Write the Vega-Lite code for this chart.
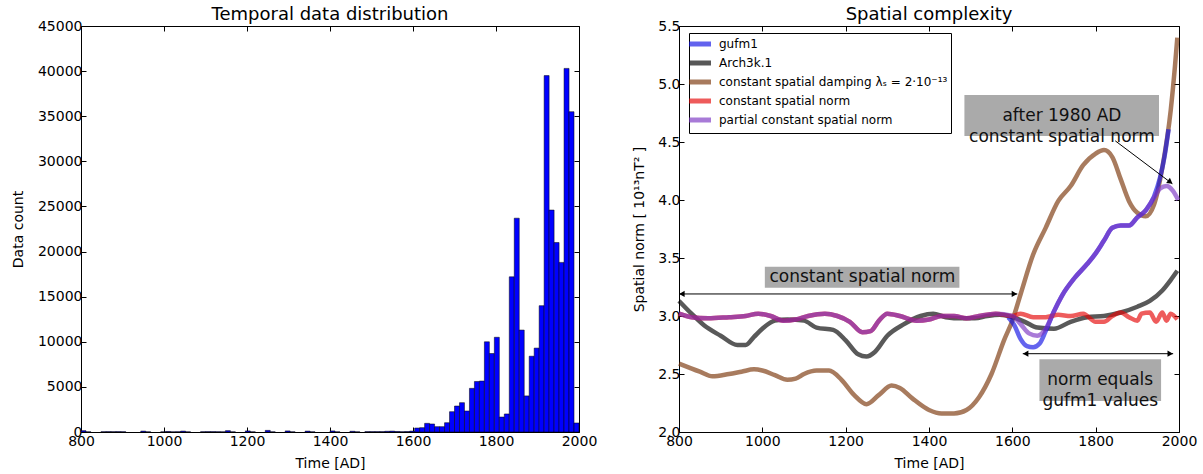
{
 "$schema": "https://vega.github.io/schema/vega-lite/v6.json",
 "padding": {"left": 10, "top": 5, "right": 5, "bottom": 0},
 "background": "white",
 "config": {
  "font": "DejaVu Sans",
  "view": {"stroke": "black", "strokeWidth": 1},
  "axis": {"domain": false, "grid": false, "ticks": true, "tickColor": "black", "tickSize": -5, "tickWidth": 1, "labelColor": "black", "labelFontSize": 14, "labelPadding": 4, "titleFontSize": 14, "titleFontWeight": "normal", "titleColor": "black", "labelOverlap": false, "labelFlush": false},
  "axisBottom": {"labelPadding": 7, "titlePadding": 8},
  "title": {"fontSize": 18, "fontWeight": "normal", "color": "black", "offset": -5, "anchor": "middle"}
 },
 "spacing": 34,
 "datasets": {
  "hist": [
   {"start": 800, "end": 812, "count": 150}, {"start": 812, "end": 824, "count": 20}, {"start": 848, "end": 860, "count": 30}, {"start": 860, "end": 872, "count": 40}, {"start": 872, "end": 884, "count": 40}, {"start": 884, "end": 896, "count": 40}, {"start": 896, "end": 908, "count": 30}, {"start": 944, "end": 956, "count": 100}, {"start": 956, "end": 968, "count": 20}, {"start": 992, "end": 1004, "count": 20}, {"start": 1004, "end": 1016, "count": 60}, {"start": 1016, "end": 1028, "count": 20}, {"start": 1028, "end": 1040, "count": 30}, {"start": 1040, "end": 1052, "count": 100}, {"start": 1052, "end": 1064, "count": 20}, {"start": 1088, "end": 1100, "count": 30}, {"start": 1100, "end": 1112, "count": 40}, {"start": 1112, "end": 1124, "count": 40}, {"start": 1124, "end": 1136, "count": 30}, {"start": 1136, "end": 1148, "count": 20}, {"start": 1148, "end": 1160, "count": 150}, {"start": 1160, "end": 1172, "count": 20}, {"start": 1196, "end": 1208, "count": 120}, {"start": 1208, "end": 1220, "count": 20}, {"start": 1244, "end": 1256, "count": 180}, {"start": 1256, "end": 1268, "count": 20}, {"start": 1292, "end": 1304, "count": 120}, {"start": 1304, "end": 1316, "count": 20}, {"start": 1340, "end": 1352, "count": 100}, {"start": 1352, "end": 1364, "count": 20}, {"start": 1400, "end": 1412, "count": 120}, {"start": 1412, "end": 1424, "count": 20}, {"start": 1448, "end": 1460, "count": 80}, {"start": 1460, "end": 1472, "count": 20}, {"start": 1484, "end": 1496, "count": 40}, {"start": 1496, "end": 1508, "count": 40}, {"start": 1508, "end": 1520, "count": 40}, {"start": 1520, "end": 1532, "count": 40}, {"start": 1532, "end": 1544, "count": 80}, {"start": 1544, "end": 1556, "count": 100}, {"start": 1556, "end": 1568, "count": 60}, {"start": 1568, "end": 1580, "count": 30}, {"start": 1580, "end": 1592, "count": 50}, {"start": 1592, "end": 1604, "count": 100}, {"start": 1604, "end": 1616, "count": 440}, {"start": 1616, "end": 1628, "count": 480}, {"start": 1628, "end": 1640, "count": 960}, {"start": 1640, "end": 1652, "count": 890}, {"start": 1652, "end": 1664, "count": 590}, {"start": 1664, "end": 1676, "count": 590}, {"start": 1676, "end": 1688, "count": 1030}, {"start": 1688, "end": 1700, "count": 2250}, {"start": 1700, "end": 1712, "count": 2880}, {"start": 1712, "end": 1724, "count": 3250}, {"start": 1724, "end": 1736, "count": 2330}, {"start": 1736, "end": 1748, "count": 4840}, {"start": 1748, "end": 1760, "count": 5600}, {"start": 1760, "end": 1772, "count": 5650}, {"start": 1772, "end": 1784, "count": 10000}, {"start": 1784, "end": 1796, "count": 8700}, {"start": 1796, "end": 1808, "count": 10500}, {"start": 1808, "end": 1820, "count": 1660}, {"start": 1820, "end": 1832, "count": 2000}, {"start": 1832, "end": 1844, "count": 17200}, {"start": 1844, "end": 1856, "count": 23700}, {"start": 1856, "end": 1868, "count": 11300}, {"start": 1868, "end": 1880, "count": 4000}, {"start": 1880, "end": 1892, "count": 8400}, {"start": 1892, "end": 1904, "count": 9300}, {"start": 1904, "end": 1916, "count": 14000}, {"start": 1916, "end": 1928, "count": 39500}, {"start": 1928, "end": 1940, "count": 24600}, {"start": 1940, "end": 1952, "count": 21000}, {"start": 1952, "end": 1964, "count": 18800}, {"start": 1964, "end": 1976, "count": 40300}, {"start": 1976, "end": 1988, "count": 35500}, {"start": 1988, "end": 2000, "count": 1000}
  ],
  "lines": [
   {"series": "constant spatial damping λₛ = 2·10⁻¹³", "year": 800, "value": 2.59}, {"series": "constant spatial damping λₛ = 2·10⁻¹³", "year": 850, "value": 2.52}, {"series": "constant spatial damping λₛ = 2·10⁻¹³", "year": 880, "value": 2.48}, {"series": "constant spatial damping λₛ = 2·10⁻¹³", "year": 920, "value": 2.5}, {"series": "constant spatial damping λₛ = 2·10⁻¹³", "year": 950, "value": 2.52}, {"series": "constant spatial damping λₛ = 2·10⁻¹³", "year": 980, "value": 2.54}, {"series": "constant spatial damping λₛ = 2·10⁻¹³", "year": 1000, "value": 2.53}, {"series": "constant spatial damping λₛ = 2·10⁻¹³", "year": 1030, "value": 2.49}, {"series": "constant spatial damping λₛ = 2·10⁻¹³", "year": 1060, "value": 2.45}, {"series": "constant spatial damping λₛ = 2·10⁻¹³", "year": 1080, "value": 2.46}, {"series": "constant spatial damping λₛ = 2·10⁻¹³", "year": 1100, "value": 2.5}, {"series": "constant spatial damping λₛ = 2·10⁻¹³", "year": 1130, "value": 2.53}, {"series": "constant spatial damping λₛ = 2·10⁻¹³", "year": 1160, "value": 2.53}, {"series": "constant spatial damping λₛ = 2·10⁻¹³", "year": 1190, "value": 2.45}, {"series": "constant spatial damping λₛ = 2·10⁻¹³", "year": 1220, "value": 2.32}, {"series": "constant spatial damping λₛ = 2·10⁻¹³", "year": 1250, "value": 2.24}, {"series": "constant spatial damping λₛ = 2·10⁻¹³", "year": 1280, "value": 2.32}, {"series": "constant spatial damping λₛ = 2·10⁻¹³", "year": 1310, "value": 2.4}, {"series": "constant spatial damping λₛ = 2·10⁻¹³", "year": 1330, "value": 2.38}, {"series": "constant spatial damping λₛ = 2·10⁻¹³", "year": 1360, "value": 2.29}, {"series": "constant spatial damping λₛ = 2·10⁻¹³", "year": 1400, "value": 2.19}, {"series": "constant spatial damping λₛ = 2·10⁻¹³", "year": 1430, "value": 2.16}, {"series": "constant spatial damping λₛ = 2·10⁻¹³", "year": 1460, "value": 2.16}, {"series": "constant spatial damping λₛ = 2·10⁻¹³", "year": 1490, "value": 2.19}, {"series": "constant spatial damping λₛ = 2·10⁻¹³", "year": 1520, "value": 2.3}, {"series": "constant spatial damping λₛ = 2·10⁻¹³", "year": 1550, "value": 2.5}, {"series": "constant spatial damping λₛ = 2·10⁻¹³", "year": 1580, "value": 2.79}, {"series": "constant spatial damping λₛ = 2·10⁻¹³", "year": 1600, "value": 2.96}, {"series": "constant spatial damping λₛ = 2·10⁻¹³", "year": 1620, "value": 3.19}, {"series": "constant spatial damping λₛ = 2·10⁻¹³", "year": 1650, "value": 3.53}, {"series": "constant spatial damping λₛ = 2·10⁻¹³", "year": 1680, "value": 3.76}, {"series": "constant spatial damping λₛ = 2·10⁻¹³", "year": 1710, "value": 3.99}, {"series": "constant spatial damping λₛ = 2·10⁻¹³", "year": 1740, "value": 4.12}, {"series": "constant spatial damping λₛ = 2·10⁻¹³", "year": 1770, "value": 4.3}, {"series": "constant spatial damping λₛ = 2·10⁻¹³", "year": 1800, "value": 4.4}, {"series": "constant spatial damping λₛ = 2·10⁻¹³", "year": 1820, "value": 4.43}, {"series": "constant spatial damping λₛ = 2·10⁻¹³", "year": 1840, "value": 4.37}, {"series": "constant spatial damping λₛ = 2·10⁻¹³", "year": 1860, "value": 4.18}, {"series": "constant spatial damping λₛ = 2·10⁻¹³", "year": 1880, "value": 3.99}, {"series": "constant spatial damping λₛ = 2·10⁻¹³", "year": 1900, "value": 3.89}, {"series": "constant spatial damping λₛ = 2·10⁻¹³", "year": 1920, "value": 3.86}, {"series": "constant spatial damping λₛ = 2·10⁻¹³", "year": 1940, "value": 3.96}, {"series": "constant spatial damping λₛ = 2·10⁻¹³", "year": 1960, "value": 4.28}, {"series": "constant spatial damping λₛ = 2·10⁻¹³", "year": 1980, "value": 4.77}, {"series": "constant spatial damping λₛ = 2·10⁻¹³", "year": 1990, "value": 5.14}, {"series": "constant spatial damping λₛ = 2·10⁻¹³", "year": 1996, "value": 5.4},
   {"series": "Arch3k.1", "year": 800, "value": 3.13}, {"series": "Arch3k.1", "year": 830, "value": 3.02}, {"series": "Arch3k.1", "year": 860, "value": 2.92}, {"series": "Arch3k.1", "year": 900, "value": 2.83}, {"series": "Arch3k.1", "year": 940, "value": 2.75}, {"series": "Arch3k.1", "year": 960, "value": 2.75}, {"series": "Arch3k.1", "year": 980, "value": 2.82}, {"series": "Arch3k.1", "year": 1000, "value": 2.89}, {"series": "Arch3k.1", "year": 1030, "value": 2.96}, {"series": "Arch3k.1", "year": 1060, "value": 2.97}, {"series": "Arch3k.1", "year": 1100, "value": 2.96}, {"series": "Arch3k.1", "year": 1130, "value": 2.9}, {"series": "Arch3k.1", "year": 1170, "value": 2.88}, {"series": "Arch3k.1", "year": 1200, "value": 2.79}, {"series": "Arch3k.1", "year": 1230, "value": 2.67}, {"series": "Arch3k.1", "year": 1250, "value": 2.65}, {"series": "Arch3k.1", "year": 1270, "value": 2.69}, {"series": "Arch3k.1", "year": 1300, "value": 2.83}, {"series": "Arch3k.1", "year": 1340, "value": 2.93}, {"series": "Arch3k.1", "year": 1380, "value": 3.0}, {"series": "Arch3k.1", "year": 1410, "value": 3.02}, {"series": "Arch3k.1", "year": 1440, "value": 2.99}, {"series": "Arch3k.1", "year": 1480, "value": 2.98}, {"series": "Arch3k.1", "year": 1510, "value": 2.98}, {"series": "Arch3k.1", "year": 1540, "value": 3.0}, {"series": "Arch3k.1", "year": 1570, "value": 3.01}, {"series": "Arch3k.1", "year": 1600, "value": 2.99}, {"series": "Arch3k.1", "year": 1630, "value": 2.95}, {"series": "Arch3k.1", "year": 1660, "value": 2.9}, {"series": "Arch3k.1", "year": 1700, "value": 2.89}, {"series": "Arch3k.1", "year": 1740, "value": 2.95}, {"series": "Arch3k.1", "year": 1780, "value": 2.99}, {"series": "Arch3k.1", "year": 1820, "value": 3.0}, {"series": "Arch3k.1", "year": 1860, "value": 3.03}, {"series": "Arch3k.1", "year": 1900, "value": 3.08}, {"series": "Arch3k.1", "year": 1930, "value": 3.13}, {"series": "Arch3k.1", "year": 1960, "value": 3.22}, {"series": "Arch3k.1", "year": 1980, "value": 3.31}, {"series": "Arch3k.1", "year": 1996, "value": 3.39},
   {"series": "gufm1", "year": 1590, "value": 2.99}, {"series": "gufm1", "year": 1605, "value": 2.92}, {"series": "gufm1", "year": 1620, "value": 2.8}, {"series": "gufm1", "year": 1635, "value": 2.74}, {"series": "gufm1", "year": 1650, "value": 2.73}, {"series": "gufm1", "year": 1665, "value": 2.76}, {"series": "gufm1", "year": 1680, "value": 2.87}, {"series": "gufm1", "year": 1700, "value": 3.04}, {"series": "gufm1", "year": 1720, "value": 3.18}, {"series": "gufm1", "year": 1750, "value": 3.33}, {"series": "gufm1", "year": 1780, "value": 3.45}, {"series": "gufm1", "year": 1800, "value": 3.54}, {"series": "gufm1", "year": 1820, "value": 3.65}, {"series": "gufm1", "year": 1840, "value": 3.76}, {"series": "gufm1", "year": 1860, "value": 3.78}, {"series": "gufm1", "year": 1880, "value": 3.78}, {"series": "gufm1", "year": 1900, "value": 3.85}, {"series": "gufm1", "year": 1920, "value": 3.91}, {"series": "gufm1", "year": 1940, "value": 4.03}, {"series": "gufm1", "year": 1955, "value": 4.2}, {"series": "gufm1", "year": 1965, "value": 4.37}, {"series": "gufm1", "year": 1975, "value": 4.61},
   {"series": "constant spatial norm", "year": 800, "value": 3.02}, {"series": "constant spatial norm", "year": 830, "value": 2.99}, {"series": "constant spatial norm", "year": 870, "value": 2.98}, {"series": "constant spatial norm", "year": 920, "value": 2.99}, {"series": "constant spatial norm", "year": 960, "value": 3.0}, {"series": "constant spatial norm", "year": 990, "value": 3.02}, {"series": "constant spatial norm", "year": 1020, "value": 3.0}, {"series": "constant spatial norm", "year": 1050, "value": 2.96}, {"series": "constant spatial norm", "year": 1080, "value": 2.97}, {"series": "constant spatial norm", "year": 1110, "value": 3.0}, {"series": "constant spatial norm", "year": 1150, "value": 3.02}, {"series": "constant spatial norm", "year": 1180, "value": 3.0}, {"series": "constant spatial norm", "year": 1210, "value": 2.95}, {"series": "constant spatial norm", "year": 1240, "value": 2.86}, {"series": "constant spatial norm", "year": 1260, "value": 2.87}, {"series": "constant spatial norm", "year": 1280, "value": 2.96}, {"series": "constant spatial norm", "year": 1300, "value": 3.02}, {"series": "constant spatial norm", "year": 1330, "value": 3.0}, {"series": "constant spatial norm", "year": 1370, "value": 2.96}, {"series": "constant spatial norm", "year": 1400, "value": 2.97}, {"series": "constant spatial norm", "year": 1430, "value": 3.0}, {"series": "constant spatial norm", "year": 1460, "value": 3.0}, {"series": "constant spatial norm", "year": 1490, "value": 2.98}, {"series": "constant spatial norm", "year": 1520, "value": 3.0}, {"series": "constant spatial norm", "year": 1560, "value": 3.02}, {"series": "constant spatial norm", "year": 1600, "value": 3.0}, {"series": "constant spatial norm", "year": 1620, "value": 3.02}, {"series": "constant spatial norm", "year": 1650, "value": 2.99}, {"series": "constant spatial norm", "year": 1680, "value": 2.99}, {"series": "constant spatial norm", "year": 1710, "value": 3.01}, {"series": "constant spatial norm", "year": 1740, "value": 3.0}, {"series": "constant spatial norm", "year": 1770, "value": 3.02}, {"series": "constant spatial norm", "year": 1800, "value": 2.95}, {"series": "constant spatial norm", "year": 1820, "value": 2.95}, {"series": "constant spatial norm", "year": 1840, "value": 3.0}, {"series": "constant spatial norm", "year": 1860, "value": 3.03}, {"series": "constant spatial norm", "year": 1880, "value": 2.99}, {"series": "constant spatial norm", "year": 1900, "value": 2.96}, {"series": "constant spatial norm", "year": 1910, "value": 3.02}, {"series": "constant spatial norm", "year": 1930, "value": 3.03}, {"series": "constant spatial norm", "year": 1945, "value": 2.95}, {"series": "constant spatial norm", "year": 1960, "value": 3.03}, {"series": "constant spatial norm", "year": 1970, "value": 2.96}, {"series": "constant spatial norm", "year": 1980, "value": 3.02}, {"series": "constant spatial norm", "year": 1996, "value": 2.97},
   {"series": "partial constant spatial norm", "year": 800, "value": 3.02}, {"series": "partial constant spatial norm", "year": 830, "value": 2.99}, {"series": "partial constant spatial norm", "year": 870, "value": 2.98}, {"series": "partial constant spatial norm", "year": 920, "value": 2.99}, {"series": "partial constant spatial norm", "year": 960, "value": 3.0}, {"series": "partial constant spatial norm", "year": 990, "value": 3.02}, {"series": "partial constant spatial norm", "year": 1020, "value": 3.0}, {"series": "partial constant spatial norm", "year": 1050, "value": 2.96}, {"series": "partial constant spatial norm", "year": 1080, "value": 2.97}, {"series": "partial constant spatial norm", "year": 1110, "value": 3.0}, {"series": "partial constant spatial norm", "year": 1150, "value": 3.02}, {"series": "partial constant spatial norm", "year": 1180, "value": 3.0}, {"series": "partial constant spatial norm", "year": 1210, "value": 2.95}, {"series": "partial constant spatial norm", "year": 1240, "value": 2.86}, {"series": "partial constant spatial norm", "year": 1260, "value": 2.87}, {"series": "partial constant spatial norm", "year": 1280, "value": 2.96}, {"series": "partial constant spatial norm", "year": 1300, "value": 3.02}, {"series": "partial constant spatial norm", "year": 1330, "value": 3.0}, {"series": "partial constant spatial norm", "year": 1370, "value": 2.96}, {"series": "partial constant spatial norm", "year": 1400, "value": 2.97}, {"series": "partial constant spatial norm", "year": 1430, "value": 3.0}, {"series": "partial constant spatial norm", "year": 1460, "value": 3.0}, {"series": "partial constant spatial norm", "year": 1490, "value": 2.98}, {"series": "partial constant spatial norm", "year": 1520, "value": 3.0}, {"series": "partial constant spatial norm", "year": 1560, "value": 3.02}, {"series": "partial constant spatial norm", "year": 1600, "value": 3.0}, {"series": "partial constant spatial norm", "year": 1620, "value": 2.93}, {"series": "partial constant spatial norm", "year": 1640, "value": 2.85}, {"series": "partial constant spatial norm", "year": 1660, "value": 2.83}, {"series": "partial constant spatial norm", "year": 1680, "value": 2.89}, {"series": "partial constant spatial norm", "year": 1700, "value": 3.04}, {"series": "partial constant spatial norm", "year": 1720, "value": 3.18}, {"series": "partial constant spatial norm", "year": 1750, "value": 3.33}, {"series": "partial constant spatial norm", "year": 1780, "value": 3.45}, {"series": "partial constant spatial norm", "year": 1800, "value": 3.54}, {"series": "partial constant spatial norm", "year": 1820, "value": 3.65}, {"series": "partial constant spatial norm", "year": 1840, "value": 3.76}, {"series": "partial constant spatial norm", "year": 1860, "value": 3.78}, {"series": "partial constant spatial norm", "year": 1880, "value": 3.78}, {"series": "partial constant spatial norm", "year": 1900, "value": 3.85}, {"series": "partial constant spatial norm", "year": 1920, "value": 3.91}, {"series": "partial constant spatial norm", "year": 1940, "value": 4.02}, {"series": "partial constant spatial norm", "year": 1955, "value": 4.1}, {"series": "partial constant spatial norm", "year": 1970, "value": 4.12}, {"series": "partial constant spatial norm", "year": 1985, "value": 4.08}, {"series": "partial constant spatial norm", "year": 1998, "value": 4.0}
  ],
  "boxes": [
   {"x": 1006, "x2": 1473, "y": 3.244, "y2": 3.425},
   {"x": 1665, "x2": 1957, "y": 2.267, "y2": 2.627},
   {"x": 1485, "x2": 1952, "y": 4.552, "y2": 4.905}
  ],
  "notes": [
   {"x": 1240, "y": 3.335, "label": "constant spatial norm"},
   {"x": 1811, "y": 2.447, "label": "norm equals\ngufm1 values"},
   {"x": 1719, "y": 4.728, "label": "after 1980 AD\nconstant spatial norm"}
  ],
  "arrows": [
   {"x": 800, "y": 3.19, "x2": 1612, "y2": 3.19},
   {"x": 1625, "y": 2.675, "x2": 1986, "y2": 2.675},
   {"x": 1847, "y": 4.51, "x2": 1984, "y2": 4.14}
  ],
  "headsLeft": [{"x": 807, "y": 3.19}, {"x": 1632, "y": 2.675}],
  "headsRight": [{"x": 1605, "y": 3.19}, {"x": 1979, "y": 2.675}],
  "headsDiag": [{"x": 1979, "y": 4.155}]
 },
 "hconcat": [
  {
   "width": 498,
   "height": 406,
   "title": "Temporal data distribution",
   "data": {"name": "hist"},
   "layer": [
    {
     "mark": {"type": "bar", "fill": "#0000ff", "stroke": "#000000", "strokeWidth": 0.5},
     "encoding": {
      "x": {"field": "start", "type": "quantitative", "scale": {"domain": [800, 2000], "nice": false, "zero": false}, "axis": {"title": "Time [AD]", "values": [800, 1000, 1200, 1400, 1600, 1800, 2000], "format": "d"}},
      "x2": {"field": "end"},
      "y": {"field": "count", "type": "quantitative", "scale": {"domain": [0, 45000], "nice": false}, "axis": {"title": "Data count", "values": [0, 5000, 10000, 15000, 20000, 25000, 30000, 35000, 40000, 45000], "format": "d", "titlePadding": 12}},
      "y2": {"datum": 0}
     }
    },
    {
     "mark": {"type": "bar", "opacity": 0},
     "encoding": {
      "x": {"field": "start", "type": "quantitative", "scale": {"domain": [800, 2000], "nice": false, "zero": false}, "axis": {"orient": "top", "labels": false, "title": null, "values": [800, 1000, 1200, 1400, 1600, 1800, 2000]}},
      "x2": {"field": "end"},
      "y": {"field": "count", "type": "quantitative", "scale": {"domain": [0, 45000], "nice": false}, "axis": {"orient": "right", "labels": false, "title": null, "values": [0, 5000, 10000, 15000, 20000, 25000, 30000, 35000, 40000, 45000]}},
      "y2": {"datum": 0}
     }
    }
   ],
   "resolve": {"axis": {"x": "independent", "y": "independent"}}
  },
  {
   "width": 500,
   "height": 406,
   "title": "Spatial complexity",
   "layer": [
    {
     "data": {"name": "lines"},
     "transform": [{"filter": {"field": "series", "equal": "constant spatial damping λₛ = 2·10⁻¹³"}}],
     "mark": {"type": "line", "strokeWidth": 4.5, "opacity": 0.65, "interpolate": "monotone"},
     "encoding": {
      "x": {"field": "year", "type": "quantitative", "scale": {"domain": [800, 2000], "nice": false, "zero": false}, "axis": {"title": "Time [AD]", "values": [800, 1000, 1200, 1400, 1600, 1800, 2000], "format": "d"}},
      "y": {"field": "value", "type": "quantitative", "scale": {"domain": [2, 5.5], "nice": false, "zero": false}, "axis": {"title": "Spatial norm [ 10¹³nT² ]", "values": [2, 2.5, 3, 3.5, 4, 4.5, 5, 5.5], "format": ".1f", "titlePadding": 11}},
      "color": {"field": "series", "type": "nominal", "scale": {"domain": ["gufm1", "Arch3k.1", "constant spatial damping λₛ = 2·10⁻¹³", "constant spatial norm", "partial constant spatial norm"], "range": ["#1111e5", "#000000", "#7a3408", "#e50505", "#7b34c3"]}, "legend": {"orient": "none", "legendX": 608, "legendY": 7, "title": null, "strokeColor": "black", "fillColor": "white", "padding": 3, "labelFontSize": 12, "labelLimit": 0, "symbolType": "M-2,0H2", "symbolStrokeWidth": 5, "symbolSize": 121, "symbolOpacity": 0.65, "rowPadding": -1, "labelOffset": 11, "cornerRadius": 0}}
     }
    },
    {
     "data": {"name": "lines"},
     "transform": [{"filter": {"field": "series", "equal": "Arch3k.1"}}],
     "mark": {"type": "line", "strokeWidth": 4.5, "opacity": 0.65, "interpolate": "monotone"},
     "encoding": {
      "x": {"field": "year", "type": "quantitative", "scale": {"domain": [800, 2000], "nice": false, "zero": false}, "axis": null},
      "y": {"field": "value", "type": "quantitative", "scale": {"domain": [2, 5.5], "nice": false, "zero": false}, "axis": null},
      "color": {"field": "series", "type": "nominal", "scale": {"domain": ["gufm1", "Arch3k.1", "constant spatial damping λₛ = 2·10⁻¹³", "constant spatial norm", "partial constant spatial norm"], "range": ["#1111e5", "#000000", "#7a3408", "#e50505", "#7b34c3"]}, "legend": {"orient": "none", "legendX": 608, "legendY": 7, "title": null, "strokeColor": "black", "fillColor": "white", "padding": 3, "labelFontSize": 12, "labelLimit": 0, "symbolType": "M-2,0H2", "symbolStrokeWidth": 5, "symbolSize": 121, "symbolOpacity": 0.65, "rowPadding": -1, "labelOffset": 11, "cornerRadius": 0}}
     }
    },
    {
     "data": {"name": "lines"},
     "transform": [{"filter": {"field": "series", "equal": "gufm1"}}],
     "mark": {"type": "line", "strokeWidth": 4.5, "opacity": 0.65, "interpolate": "monotone"},
     "encoding": {
      "x": {"field": "year", "type": "quantitative", "scale": {"domain": [800, 2000], "nice": false, "zero": false}, "axis": null},
      "y": {"field": "value", "type": "quantitative", "scale": {"domain": [2, 5.5], "nice": false, "zero": false}, "axis": null},
      "color": {"field": "series", "type": "nominal", "scale": {"domain": ["gufm1", "Arch3k.1", "constant spatial damping λₛ = 2·10⁻¹³", "constant spatial norm", "partial constant spatial norm"], "range": ["#1111e5", "#000000", "#7a3408", "#e50505", "#7b34c3"]}, "legend": {"orient": "none", "legendX": 608, "legendY": 7, "title": null, "strokeColor": "black", "fillColor": "white", "padding": 3, "labelFontSize": 12, "labelLimit": 0, "symbolType": "M-2,0H2", "symbolStrokeWidth": 5, "symbolSize": 121, "symbolOpacity": 0.65, "rowPadding": -1, "labelOffset": 11, "cornerRadius": 0}}
     }
    },
    {
     "data": {"name": "lines"},
     "transform": [{"filter": {"field": "series", "equal": "constant spatial norm"}}],
     "mark": {"type": "line", "strokeWidth": 4.5, "opacity": 0.65, "interpolate": "monotone"},
     "encoding": {
      "x": {"field": "year", "type": "quantitative", "scale": {"domain": [800, 2000], "nice": false, "zero": false}, "axis": null},
      "y": {"field": "value", "type": "quantitative", "scale": {"domain": [2, 5.5], "nice": false, "zero": false}, "axis": null},
      "color": {"field": "series", "type": "nominal", "scale": {"domain": ["gufm1", "Arch3k.1", "constant spatial damping λₛ = 2·10⁻¹³", "constant spatial norm", "partial constant spatial norm"], "range": ["#1111e5", "#000000", "#7a3408", "#e50505", "#7b34c3"]}, "legend": {"orient": "none", "legendX": 608, "legendY": 7, "title": null, "strokeColor": "black", "fillColor": "white", "padding": 3, "labelFontSize": 12, "labelLimit": 0, "symbolType": "M-2,0H2", "symbolStrokeWidth": 5, "symbolSize": 121, "symbolOpacity": 0.65, "rowPadding": -1, "labelOffset": 11, "cornerRadius": 0}}
     }
    },
    {
     "data": {"name": "lines"},
     "transform": [{"filter": {"field": "series", "equal": "partial constant spatial norm"}}],
     "mark": {"type": "line", "strokeWidth": 4.5, "opacity": 0.65, "interpolate": "monotone"},
     "encoding": {
      "x": {"field": "year", "type": "quantitative", "scale": {"domain": [800, 2000], "nice": false, "zero": false}, "axis": null},
      "y": {"field": "value", "type": "quantitative", "scale": {"domain": [2, 5.5], "nice": false, "zero": false}, "axis": null},
      "color": {"field": "series", "type": "nominal", "scale": {"domain": ["gufm1", "Arch3k.1", "constant spatial damping λₛ = 2·10⁻¹³", "constant spatial norm", "partial constant spatial norm"], "range": ["#1111e5", "#000000", "#7a3408", "#e50505", "#7b34c3"]}, "legend": {"orient": "none", "legendX": 608, "legendY": 7, "title": null, "strokeColor": "black", "fillColor": "white", "padding": 3, "labelFontSize": 12, "labelLimit": 0, "symbolType": "M-2,0H2", "symbolStrokeWidth": 5, "symbolSize": 121, "symbolOpacity": 0.65, "rowPadding": -1, "labelOffset": 11, "cornerRadius": 0}}
     }
    },
    {
     "data": {"name": "boxes"},
     "mark": {"type": "rect", "fill": "#aaaaaa"},
     "encoding": {
      "x": {"field": "x", "type": "quantitative", "scale": {"domain": [800, 2000], "nice": false, "zero": false}, "axis": null},
      "x2": {"field": "x2"},
      "y": {"field": "y", "type": "quantitative", "scale": {"domain": [2, 5.5], "nice": false, "zero": false}, "axis": null},
      "y2": {"field": "y2"}
     }
    },
    {
     "data": {"name": "notes"},
     "mark": {"type": "text", "fontSize": 17, "color": "#111111", "lineBreak": "\n", "lineHeight": 21, "align": "center", "baseline": "middle"},
     "encoding": {
      "x": {"field": "x", "type": "quantitative", "scale": {"domain": [800, 2000], "nice": false, "zero": false}, "axis": null},
      "y": {"field": "y", "type": "quantitative", "scale": {"domain": [2, 5.5], "nice": false, "zero": false}, "axis": null},
      "text": {"field": "label"}
     }
    },
    {
     "data": {"name": "arrows"},
     "mark": {"type": "rule", "color": "black", "strokeWidth": 1},
     "encoding": {
      "x": {"field": "x", "type": "quantitative", "scale": {"domain": [800, 2000], "nice": false, "zero": false}, "axis": {"orient": "top", "labels": false, "title": null, "values": [800, 1000, 1200, 1400, 1600, 1800, 2000]}},
      "x2": {"field": "x2"},
      "y": {"field": "y", "type": "quantitative", "scale": {"domain": [2, 5.5], "nice": false, "zero": false}, "axis": {"orient": "right", "labels": false, "title": null, "values": [2, 2.5, 3, 3.5, 4, 4.5, 5, 5.5]}},
      "y2": {"field": "y2"}
     }
    },
    {
     "data": {"name": "headsLeft"},
     "mark": {"type": "point", "shape": "triangle-left", "filled": true, "color": "black", "size": 40, "opacity": 1},
     "encoding": {
      "x": {"field": "x", "type": "quantitative", "scale": {"domain": [800, 2000], "nice": false, "zero": false}, "axis": null},
      "y": {"field": "y", "type": "quantitative", "scale": {"domain": [2, 5.5], "nice": false, "zero": false}, "axis": null}
     }
    },
    {
     "data": {"name": "headsRight"},
     "mark": {"type": "point", "shape": "triangle-right", "filled": true, "color": "black", "size": 40, "opacity": 1},
     "encoding": {
      "x": {"field": "x", "type": "quantitative", "scale": {"domain": [800, 2000], "nice": false, "zero": false}, "axis": null},
      "y": {"field": "y", "type": "quantitative", "scale": {"domain": [2, 5.5], "nice": false, "zero": false}, "axis": null}
     }
    },
    {
     "data": {"name": "headsDiag"},
     "mark": {"type": "point", "shape": "triangle-right", "filled": true, "color": "black", "size": 40, "opacity": 1, "angle": 36.5},
     "encoding": {
      "x": {"field": "x", "type": "quantitative", "scale": {"domain": [800, 2000], "nice": false, "zero": false}, "axis": null},
      "y": {"field": "y", "type": "quantitative", "scale": {"domain": [2, 5.5], "nice": false, "zero": false}, "axis": null}
     }
    }
   ],
   "resolve": {"axis": {"x": "independent", "y": "independent"}}
  }
 ]
}
